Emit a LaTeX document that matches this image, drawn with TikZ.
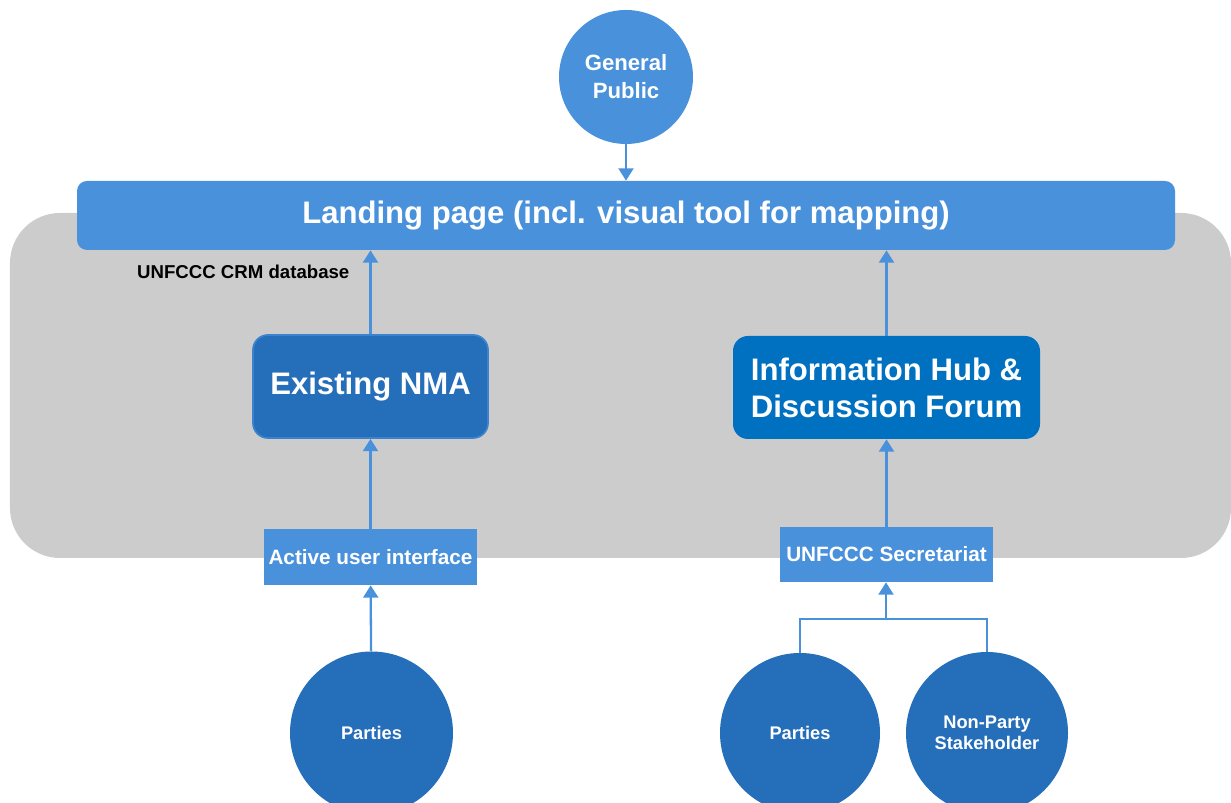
\documentclass[tikz,border=0pt]{standalone}
\usepackage{fontspec}
\setmainfont{Liberation Sans}
\usetikzlibrary{arrows.meta}

\definecolor{lightblue}{RGB}{74,145,220}
\definecolor{darkblue}{RGB}{37,110,185}
\definecolor{hubblue}{RGB}{0,112,192}
\definecolor{crmgray}{RGB}{204,204,204}

\tikzset{
    link/.style={draw=lightblue, line width=1.3pt},
    arrowlink/.style={link, -{Triangle[width=8.5pt,length=7pt]}},
    bigbox/.style={rounded corners=0.3cm, text=white, align=center, inner sep=0pt,
        font=\fontsize{17.7}{21}\selectfont\bfseries},
    smallbox/.style={fill=lightblue, text=white, align=center, inner sep=0pt,
        minimum width=4.26cm, minimum height=1.1cm,
        font=\fontsize{11.8}{14}\selectfont\bfseries},
    actor/.style={circle, fill=darkblue, text=white, align=center, inner sep=0pt,
        minimum size=3.24cm, font=\fontsize{10.4}{12.3}\selectfont\bfseries}
}

\begin{document}
\begin{tikzpicture}
    \useasboundingbox (0,0) rectangle (24.62,16.06);

    % CRM database area
    \fill[crmgray, rounded corners=1cm] (0.2,4.9) rectangle (24.62,11.8);
    \node[anchor=base west, font=\fontsize{10.6}{12}\selectfont\bfseries] (crm) at (2.62,10.48) {UNFCCC CRM database};

    % top
    \node[circle, fill=lightblue, text=white, align=center, inner sep=0pt, minimum size=2.68cm,
        font=\fontsize{12.6}{15.9}\selectfont\bfseries] (public) at (12.52,14.52) {General\\Public};
    \node[bigbox, fill=lightblue, rounded corners=0.2cm, minimum width=21.96cm, minimum height=1.38cm]
        (landing) at (12.52,11.75) {Landing page (incl. visual tool for mapping)};

    % middle
    \node[bigbox, fill=darkblue, draw=lightblue!60!darkblue, line width=1pt,
        minimum width=4.7cm, minimum height=2.06cm] (nma) at (7.41,8.33) {Existing NMA};
    \node[bigbox, fill=hubblue, minimum width=6.14cm, minimum height=2.06cm]
        (hub) at (17.73,8.31) {Information Hub \&\\Discussion Forum};

    \node[smallbox, minimum height=1.12cm] (ui) at (7.41,4.92) {Active user interface};
    \node[smallbox] (secr) at (17.73,4.97) {UNFCCC Secretariat};

    % bottom
    \node[actor, minimum size=3.26cm] (partiesA) at (7.43,1.4) {Parties};
    \node[actor, minimum size=3.2cm] (partiesB) at (16.0,1.4) {Parties};
    \node[actor] (stake) at (19.74,1.4) {Non-Party\\Stakeholder};
    \coordinate (fork) at (17.72,3.68);

    % connectors
    \draw[arrowlink] (public) -- (landing.north -| public);
    \draw[arrowlink] (nma.north) -- (nma.north |- landing.south);
    \draw[arrowlink] (hub.north) -- (hub.north |- landing.south);
    \draw[arrowlink] (ui) -- (nma);
    \draw[arrowlink] (secr) -- (hub);
    \draw[arrowlink] (partiesA) -- (ui);
    \draw[link] (partiesB.north) |- (fork) -| (stake.north);
    \draw[arrowlink] (fork) -- (secr.south -| fork);
\end{tikzpicture}
\end{document}
